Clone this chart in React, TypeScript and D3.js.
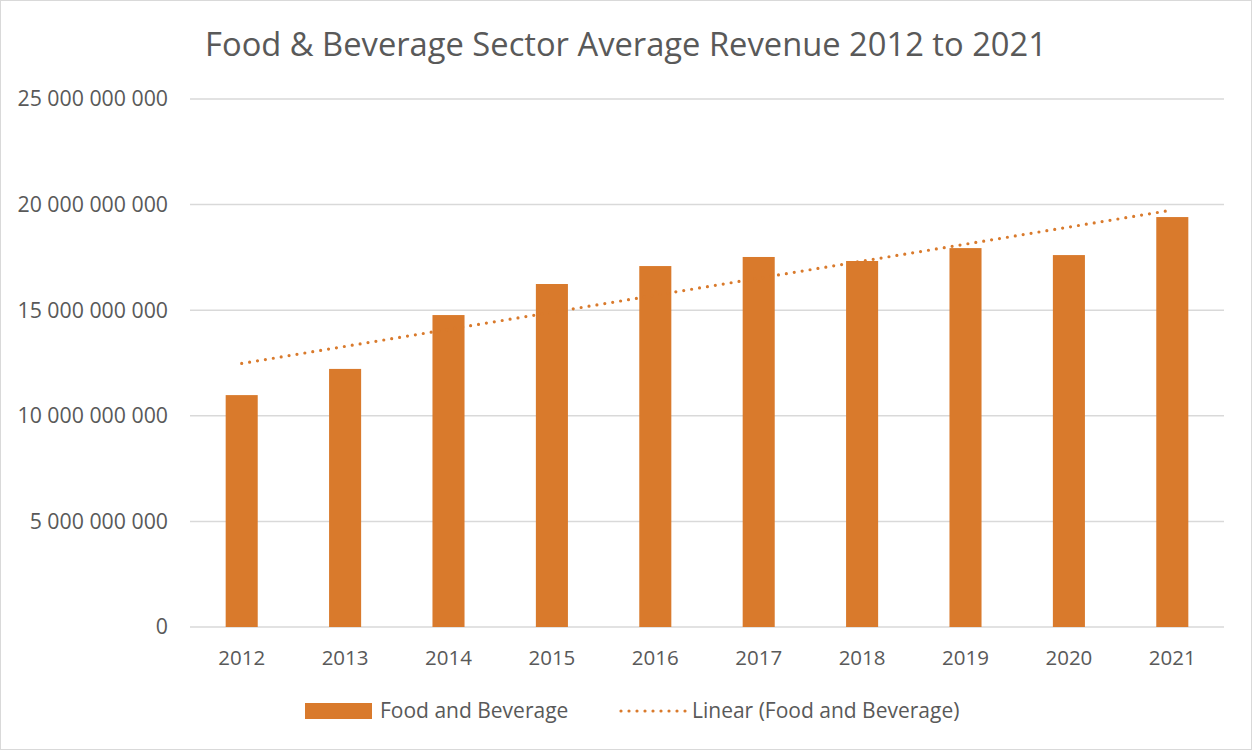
import React from "react";
import * as d3 from "d3";

const years = ["2012", "2013", "2014", "2015", "2016", "2017", "2018", "2019", "2020", "2021"];
const revenue = [10.98e9, 12.22e9, 14.77e9, 16.24e9, 17.09e9, 17.52e9, 17.33e9, 17.94e9, 17.61e9, 19.41e9];
const yTicks = [0, 5e9, 10e9, 15e9, 20e9, 25e9];
const title = "Food & Beverage Sector Average Revenue 2012 to 2021";
const seriesName = "Food and Beverage";
const trendName = "Linear (Food and Beverage)";

const W = 1252;
const H = 750;
const M = { left: 190, right: 28, top: 99, bottom: 123 };
const BAR = "#D97A2C";
const TEXT = "#595959";
const GRID = "#D9D9D9";
const FONT = "'Open Sans', 'Noto Sans', sans-serif";

function fmt(v: number) {
  return d3.format(",")(v).replace(/,/g, " ");
}

export default function App() {
  const x = d3.scaleBand<string>().domain(years).range([M.left, W - M.right]).paddingInner(0.69).paddingOuter(0.345);
  const y = d3.scaleLinear().domain([0, 25e9]).range([H - M.bottom, M.top]);

  // linear regression for trendline
  const xs = years.map((_, i) => i);
  const mx = d3.mean(xs)!;
  const my = d3.mean(revenue)!;
  const slope = d3.sum(xs.map((xi, i) => (xi - mx) * (revenue[i] - my))) / d3.sum(xs.map((xi) => (xi - mx) ** 2));
  const intercept = my - slope * mx;
  const trend = years.map((yr, i) => [x(yr)! + x.bandwidth() / 2, y(intercept + slope * i)] as [number, number]);
  const line = d3.line();

  const legendY = 711;

  return (
    <svg width={W} height={H} style={{ position: "absolute", left: 0, top: 0, background: "#fff" }} fontFamily={FONT}>
      <rect x={0.5} y={0.5} width={W - 1} height={H - 1} fill="#fff" stroke={GRID} strokeWidth={1} />
      <text x={626} y={56} textAnchor="middle" fontSize={32.7} fill={TEXT}>{title}</text>
      {yTicks.map((t) => (
        <g key={t}>
          <line x1={M.left} x2={W - M.right} y1={y(t)} y2={y(t)} stroke={GRID} strokeWidth={1.5} />
          <text x={168} y={y(t)} dy="0.35em" textAnchor="end" fontSize={21.3} fill={TEXT}>{fmt(t)}</text>
        </g>
      ))}
      {years.map((yr, i) => (
        <g key={yr}>
          <rect x={x(yr)} y={y(revenue[i])} width={x.bandwidth()} height={y(0) - y(revenue[i])} fill={BAR} />
          <text x={x(yr)! + x.bandwidth() / 2} y={665} textAnchor="middle" fontSize={20.5} fill={TEXT}>{yr}</text>
        </g>
      ))}
      <path d={line(trend)!} fill="none" stroke={BAR} strokeWidth={3.2} strokeDasharray="0 8" strokeLinecap="round" />
      <rect x={305} y={legendY - 8} width={67} height={16} fill={BAR} />
      <text x={380} y={legendY} dy="0.35em" fontSize={21} fill={TEXT}>{seriesName}</text>
      <line x1={621} x2={688} y1={legendY} y2={legendY} stroke={BAR} strokeWidth={3.2} strokeDasharray="0 8" strokeLinecap="round" />
      <text x={692} y={legendY} dy="0.35em" fontSize={21} fill={TEXT}>{trendName}</text>
    </svg>
  );
}
